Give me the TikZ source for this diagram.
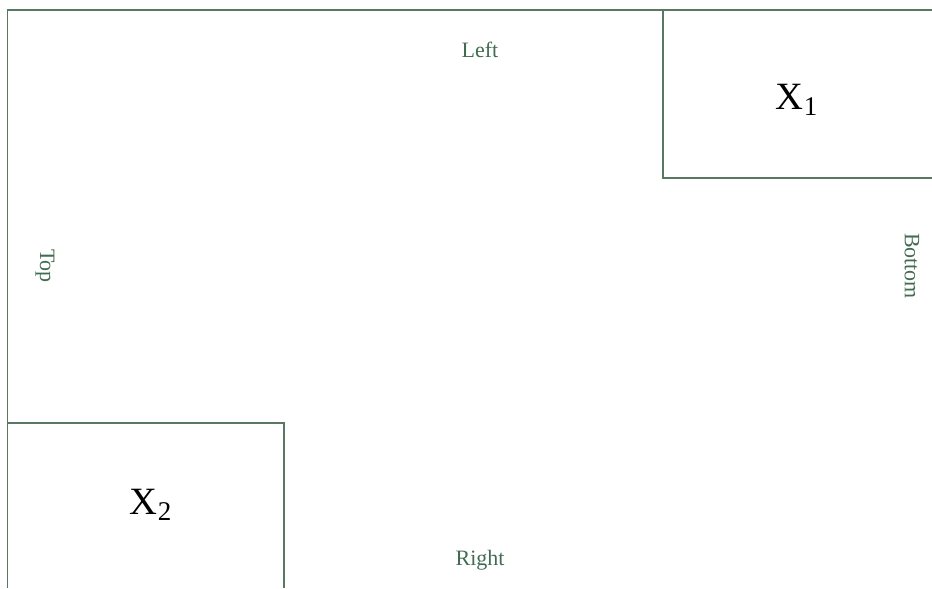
\documentclass[tikz,border=0pt]{standalone}
\usepackage{fontspec}
\setmainfont{Liberation Serif}
\usepackage{tikz}
\definecolor{framegreen}{RGB}{88,120,98}
\definecolor{labelgreen}{RGB}{66,108,82}
\tikzset{
  frameline/.style={draw=framegreen,line width=0.8pt},
  sidelabel/.style={text=labelgreen,font=\fontsize{12.5}{14}\selectfont,inner sep=0pt},
  boxlabel/.style={font=\fontsize{22}{26}\selectfont,inner sep=0pt}
}
\begin{document}
\begin{tikzpicture}[x=0.02cm,y=-0.02cm]
        \useasboundingbox (0,0) rectangle (932,588);
        % outer corner
        \coordinate (topleft) at (7.5,10);
        \coordinate (topright) at (932,10);
        \coordinate (botleft) at (7.5,588);
        \draw [frameline] (botleft) -- (topleft) -- (topright);
        % box X1
        \coordinate (xonetl) at (663,10);
        \coordinate (xonebl) at (663,178);
        \coordinate (xonebr) at (932,178);
        \draw [frameline] (xonetl) -- (xonebl) -- (xonebr);
        % box X2
        \coordinate (xtwotl) at (7.5,423);
        \coordinate (xtwotr) at (284,423);
        \coordinate (xtwobr) at (284,588);
        \draw [frameline] (xtwotl) -- (xtwotr) -- (xtwobr);
        \node [boxlabel] (xone) at (797,100) {X\textsubscript{1}};
        \node [boxlabel] (xtwo) at (151,505) {X\textsubscript{2}};
        \node [sidelabel] (left) at (480,50) {Left};
        \node [sidelabel] (right) at (480,560) {Right};
        \node [sidelabel,rotate=-90] (top) at (45,266) {Top};
        \node [sidelabel,rotate=-90] (bottom) at (912,266) {Bottom};
\end{tikzpicture}
\end{document}
